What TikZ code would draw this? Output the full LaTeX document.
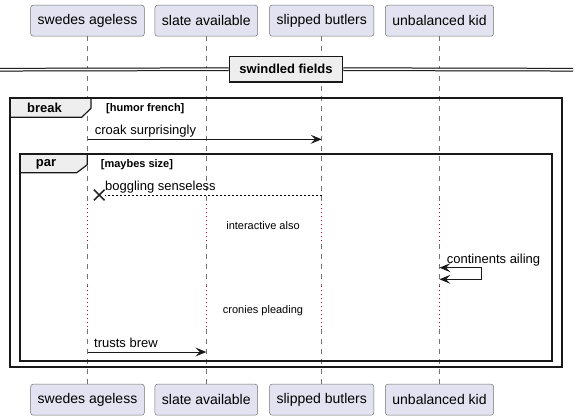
\documentclass[tikz,border=0pt]{standalone}
\usepackage{fontspec}
\setmainfont{Liberation Sans}
\usepackage{xcolor}
\usetikzlibrary{arrows.meta,shapes.misc}
\definecolor{partfill}{HTML}{E2E2F0}
\definecolor{delayred}{HTML}{A80036}
\definecolor{tabfill}{HTML}{EEEEEE}

\begin{document}
\begin{tikzpicture}[x=1pt,y=-1pt,>={Stealth[length=11pt,width=9pt,inset=4.5pt]},
    actor/.style={draw=black!55,fill=partfill,rounded corners=2.5pt,line width=0.5pt,
        minimum height=31pt,inner xsep=7pt,font=\fontsize{14}{16}\selectfont},
    life/.style={draw=black!55,line width=0.5pt,dash pattern=on 5pt off 5pt},
    delay/.style={draw=delayred,line width=0.7pt,dash pattern=on 1pt off 3pt},
    msg/.style={line width=0.9pt,draw=black!90},
    reply/.style={line width=0.7pt,dash pattern=on 2pt off 2pt},
    lbl/.style={font=\fontsize{13}{15}\selectfont,inner sep=0pt,anchor=base west},
    note/.style={font=\fontsize{11}{13}\selectfont,inner sep=0pt},
    frame/.style={draw=black!90,line width=1.8pt},
    tab/.style={draw=black!90,line width=1.2pt,fill=tabfill},
    head/.style={font=\bfseries\fontsize{13}{15}\selectfont,inner sep=0pt},
    cond/.style={font=\bfseries\fontsize{11}{13}\selectfont,inner sep=0pt,anchor=west}]
        \useasboundingbox (0,0) rectangle (578,420);
        \node[actor] (swT) at (87.5,20.7) {swedes ageless};
        \node[actor] (slT) at (206.3,20.7) {slate available};
        \node[actor] (sbT) at (321.7,20.7) {slipped butlers};
        \node[actor] (ukT) at (439.5,20.7) {unbalanced kid};
        \node[actor] (swB) at (87.5,399.7) {swedes ageless};
        \node[actor] (slB) at (206.3,399.7) {slate available};
        \node[actor] (sbB) at (321.7,399.7) {slipped butlers};
        \node[actor] (ukB) at (439.5,399.7) {unbalanced kid};
        \foreach \p in {sw,sl,sb,uk} {
            \draw[life] (\p T) -- (\p T |- 0,204);
            \draw[delay] (\p T |- 0,204) -- (\p T |- 0,244);
            \draw[life] (\p T |- 0,244) -- (\p T |- 0,286);
            \draw[delay] (\p T |- 0,286) -- (\p T |- 0,329);
            \draw[life] (\p T |- 0,329) -- (\p B);
        }
        % divider
        \node[draw=black!90,fill=tabfill,line width=1.6pt,minimum width=113pt,minimum height=25pt,
            font=\bfseries\fontsize{13}{15}\selectfont] (div) at (286,69.2) {swindled fields};
        \coordinate (divL) at (0,69.7);
        \coordinate (divR) at (573,69.7);
        \draw[double=white,double distance=1.7pt,line width=1pt] (divL) -- (div.west);
        \draw[double=white,double distance=1.7pt,line width=1pt] (div.east) -- (divR);
        % break group
        \draw[tab] (10.3,98.3) -- (91,98.3) -- (91,108.3) -- (81.7,117.3) -- (10.3,117.3) -- cycle;
        \draw[frame] (10.3,98.3) rectangle (562.3,366.7);
        \node[head] (brk) at (44.5,108.3) {break};
        \node[cond] (brkC) at (106,108.3) {[humor french]};
        \coordinate (cs1) at (swT |- 0,139.3);
        \coordinate (cs2) at (sbT |- 0,139.3);
        \draw[msg,->] (cs1) -- (cs2);
        \node[lbl] at (94.7,134.8) {croak surprisingly};
        % par group
        \draw[tab] (20.3,153.7) -- (87.3,153.7) -- (87.3,164.7) -- (76.7,172.7) -- (20.3,172.7) -- cycle;
        \draw[frame] (20.3,153.7) rectangle (552.3,360.7);
        \node[head] (par) at (46,164.3) {par};
        \node[cond] (parC) at (100.7,164.3) {[maybes size]};
        \node[draw=black!85,cross out,line width=1.6pt,minimum size=9pt,inner sep=0pt] (bsX) at (99.3,195) {};
        \coordinate (bs1) at (sbT |- 0,195);
        \draw[reply] (bs1) -- (bsX);
        \node[lbl] at (105,190.5) {boggling senseless};
        \node[note] (d1) at (263,225.7) {interactive also};
        \coordinate (ca1) at (ukT |- 0,267.7);
        \coordinate (ca2) at (ukT |- 0,279.3);
        \draw[msg,<->] (ca1) -- ++(41.5,0) -- ++(0,11.6) -- (ca2);
        \node[lbl] at (446.7,263.2) {continents ailing};
        \node[note] (d2) at (263,310.7) {cronies pleading};
        \coordinate (tb1) at (swT |- 0,352);
        \coordinate (tb2) at (slT |- 0,352);
        \draw[msg,->] (tb1) -- (tb2);
        \node[lbl] at (94,347.5) {trusts brew};
    \end{tikzpicture}
\end{document}
